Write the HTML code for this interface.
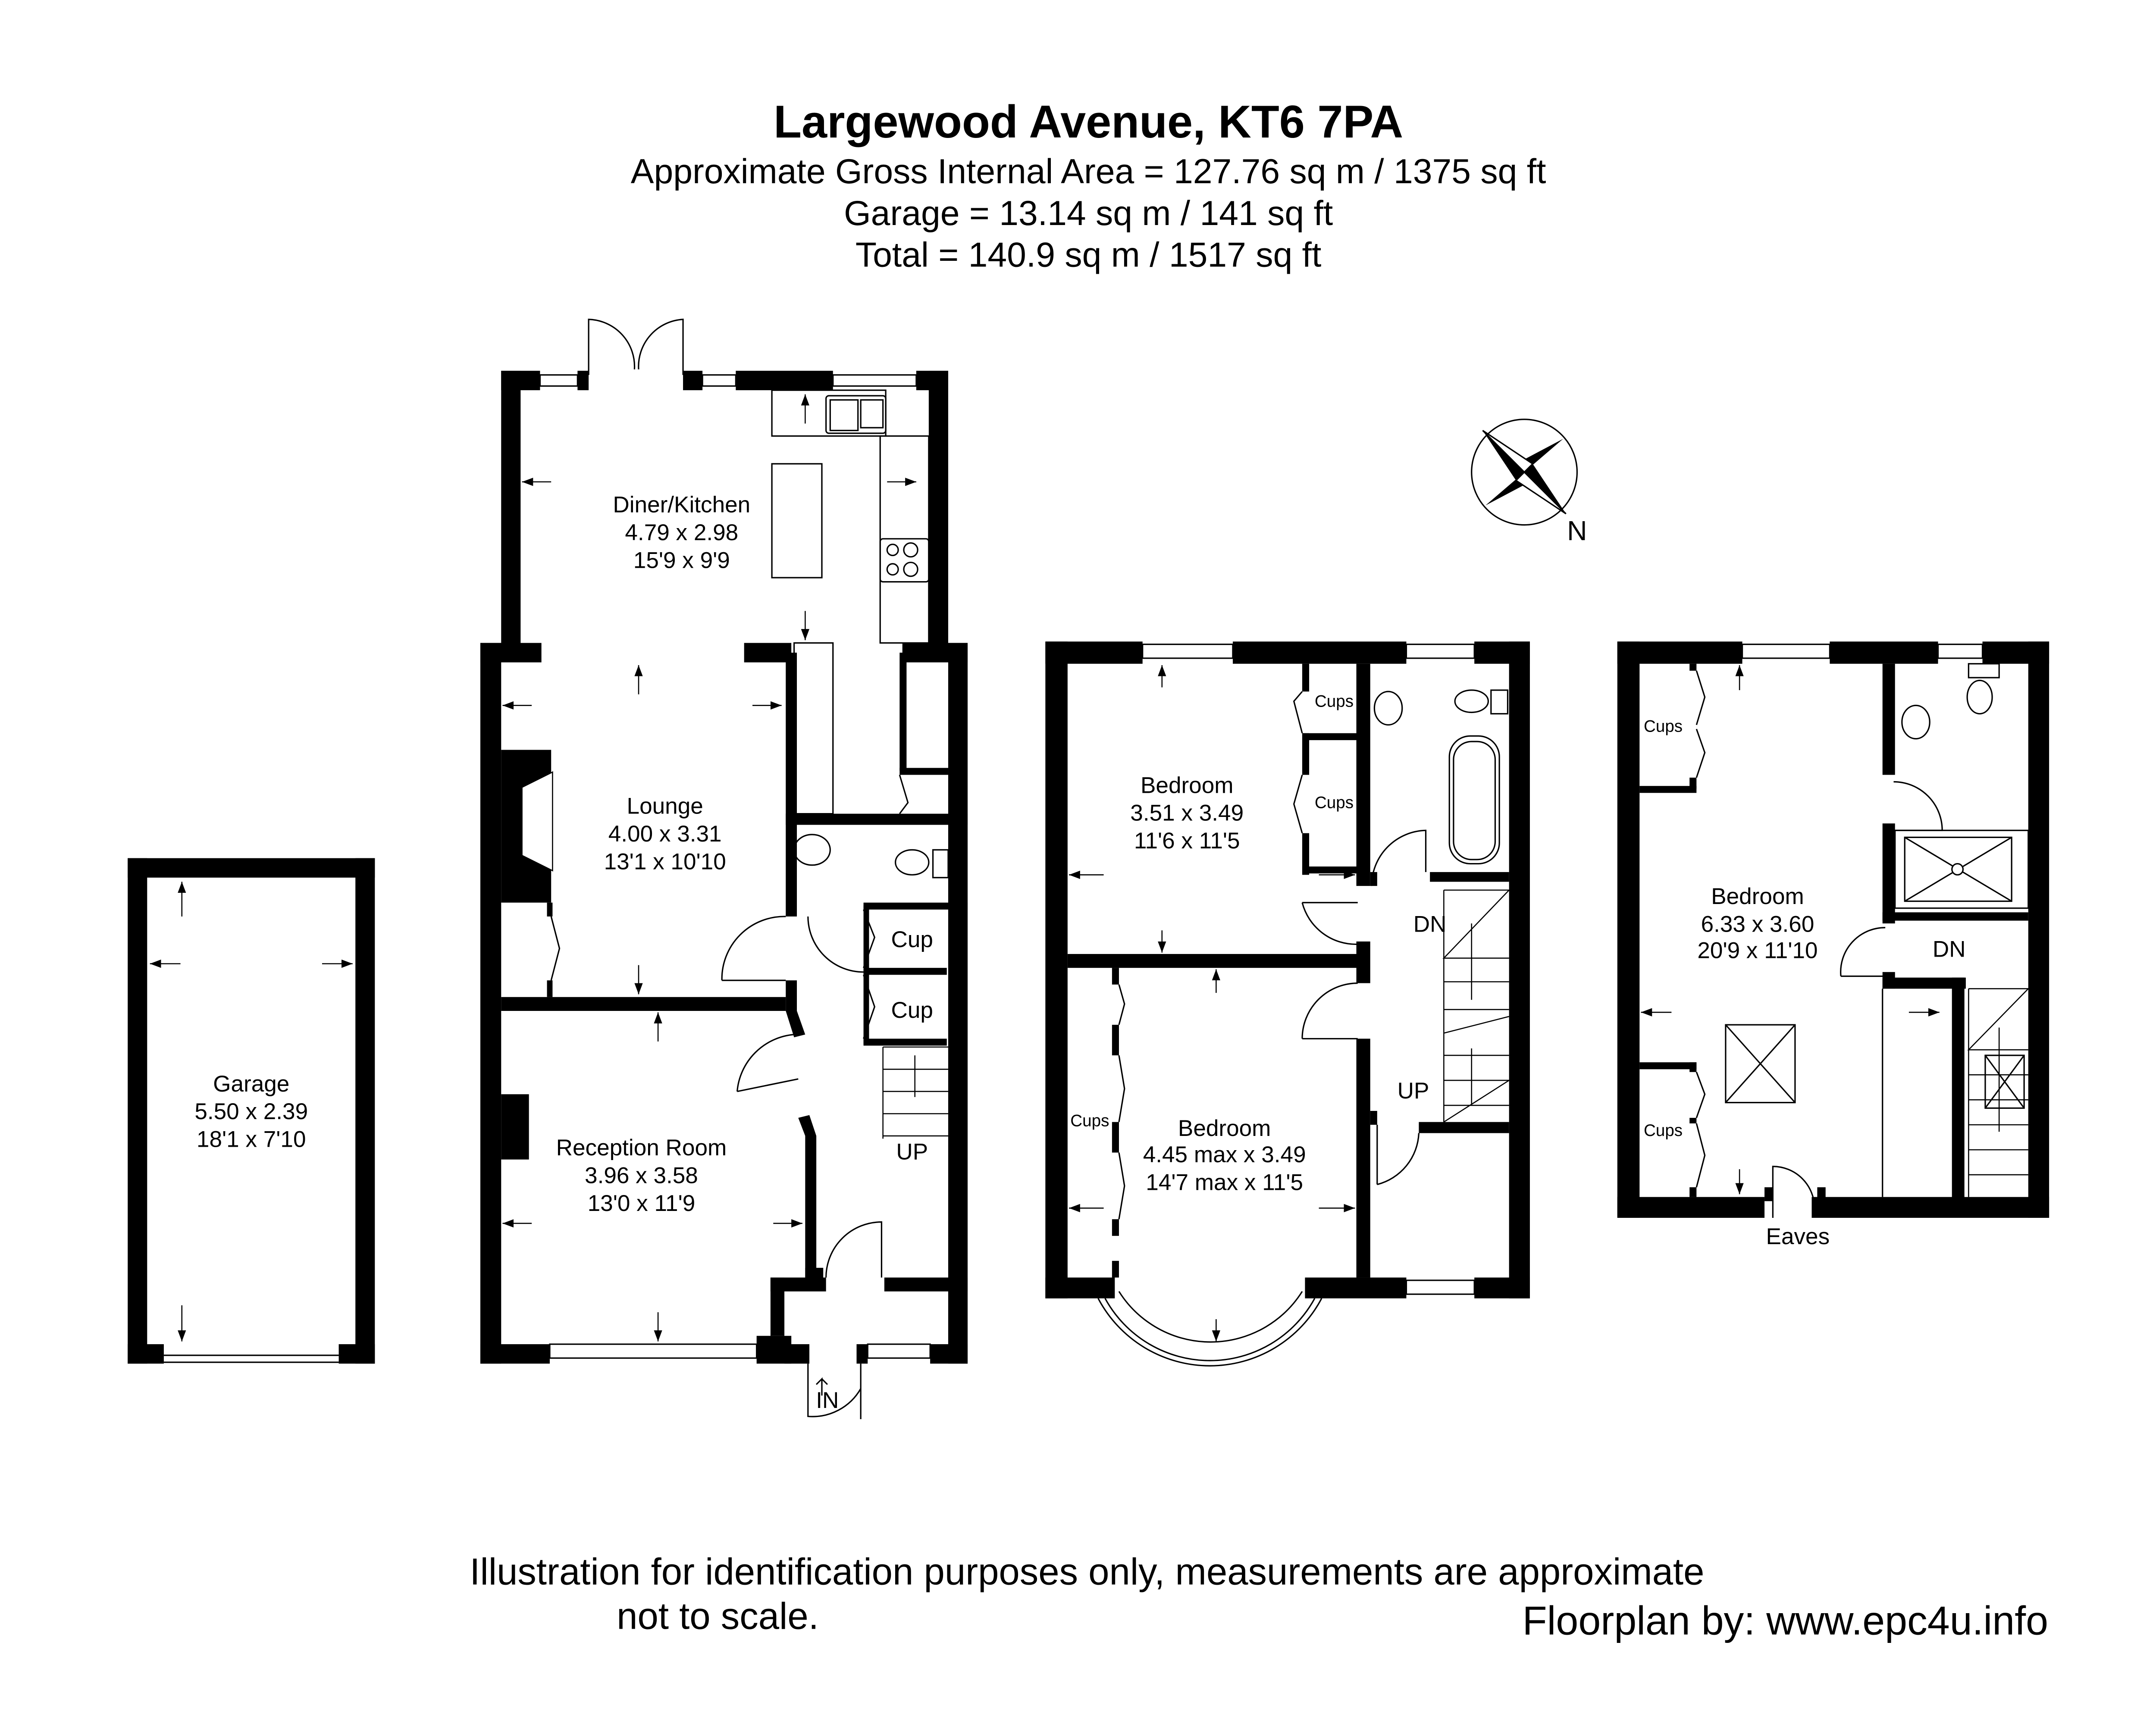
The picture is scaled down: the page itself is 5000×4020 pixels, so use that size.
<!DOCTYPE html>
<html><head><meta charset="utf-8"><style>
html,body{margin:0;padding:0;background:#fff}
svg{display:block}
text{font-family:"Liberation Sans",sans-serif;fill:#000}
</style></head><body>
<svg width="5000" height="4020" viewBox="0 0 1553 1248" preserveAspectRatio="none" xmlns="http://www.w3.org/2000/svg">
<defs>
<marker id="ah" markerWidth="8" markerHeight="6" refX="8" refY="3" orient="auto" markerUnits="userSpaceOnUse"><path d="M0 0 L8 3 L0 6 Z" fill="#000"/></marker>
</defs>
<rect width="1553" height="1248" fill="#fff"/>
<!-- Titles -->
<text x="784" y="99" font-size="33" font-weight="bold" text-anchor="middle">Largewood Avenue, KT6 7PA</text>
<text x="784" y="132" font-size="25" text-anchor="middle">Approximate Gross Internal Area = 127.76 sq m / 1375 sq ft</text>
<text x="784" y="162" font-size="25" text-anchor="middle">Garage = 13.14 sq m / 141 sq ft</text>
<text x="784" y="192" font-size="25" text-anchor="middle">Total = 140.9 sq m / 1517 sq ft</text>

<g fill="#000">
<!-- Garage -->
<rect x="92" y="618" width="178" height="14"/>
<rect x="92" y="618" width="14" height="364"/>
<rect x="256" y="618" width="14" height="364"/>
<rect x="92" y="968" width="26" height="14"/>
<rect x="244" y="968" width="26" height="14"/>

<!-- Ground floor extension -->
<rect x="361" y="267" width="28" height="14"/>
<rect x="416" y="267" width="8" height="14"/>
<rect x="492" y="267" width="14" height="14"/>
<rect x="530" y="267" width="70" height="14"/>
<rect x="660" y="267" width="23" height="14"/>
<rect x="361" y="267" width="14" height="210"/>
<rect x="669" y="267" width="14" height="210"/>
<!-- main house -->
<rect x="346" y="463" width="44" height="14"/>
<rect x="536" y="463" width="34" height="14"/>
<rect x="650" y="463" width="47" height="14"/>
<rect x="346" y="463" width="15" height="519"/>
<rect x="683" y="463" width="14" height="519"/>
<rect x="346" y="968" width="50" height="14"/>
<rect x="545" y="962" width="25" height="20"/>
<rect x="555" y="920" width="40" height="10"/>
<rect x="637" y="920" width="60" height="10"/>
<rect x="555" y="920" width="10" height="42"/>
<rect x="565" y="968" width="18" height="14"/>
<rect x="617" y="968" width="8" height="14"/>
<rect x="670" y="968" width="27" height="14"/>
<!-- chimney -->
<rect x="361" y="540" width="36" height="110"/>
<rect x="361" y="788" width="20" height="47"/>
<!-- lounge/reception wall -->
<rect x="361" y="718" width="205" height="10"/>
<rect x="394" y="650" width="4" height="10"/>
<rect x="394" y="706" width="4" height="12"/>
<!-- hall walls -->
<rect x="566" y="470" width="8" height="120"/>
<rect x="566" y="586" width="131" height="8"/>
<rect x="566" y="590" width="8" height="70"/>
<rect x="566" y="706" width="8" height="22"/>
<polygon points="566,728 574,728 580,745 572,747"/>
<polygon points="575,805 583,803 588,818 588,920 580,920 580,818"/>
<rect x="580" y="913" width="13" height="8"/>
<rect x="622" y="652" width="4" height="100"/>
<rect x="622" y="650" width="75" height="5"/>
<rect x="622" y="697" width="60" height="5"/>
<rect x="622" y="748" width="60" height="5"/>
<rect x="648" y="470" width="5" height="85"/>
<rect x="648" y="553" width="35" height="5"/>

<!-- First floor -->
<rect x="753" y="462" width="70" height="16"/>
<rect x="888" y="462" width="125" height="16"/>
<rect x="1062" y="462" width="40" height="16"/>
<rect x="753" y="462" width="16" height="473"/>
<rect x="1087" y="462" width="15" height="473"/>
<rect x="753" y="920" width="50" height="15"/>
<rect x="940" y="920" width="73" height="15"/>
<rect x="1062" y="920" width="40" height="15"/>
<rect x="769" y="687" width="217" height="10"/>
<rect x="977" y="478" width="10" height="160"/>
<rect x="987" y="628" width="5" height="10"/>
<rect x="977" y="678" width="10" height="30"/>
<rect x="977" y="748" width="10" height="172"/>
<rect x="1022" y="808" width="65" height="8"/>
<rect x="987" y="800" width="5" height="10"/>
<rect x="1030" y="628" width="57" height="7"/>
<rect x="938" y="478" width="5" height="20"/>
<rect x="938" y="528" width="40" height="5"/>
<rect x="938" y="528" width="5" height="30"/>
<rect x="938" y="600" width="5" height="30"/>
<rect x="938" y="624" width="40" height="5"/>
<rect x="801" y="697" width="5" height="12"/>
<rect x="801" y="738" width="5" height="22"/>
<rect x="801" y="808" width="5" height="22"/>
<rect x="801" y="878" width="5" height="12"/>
<rect x="801" y="908" width="5" height="12"/>

<!-- Loft -->
<rect x="1165" y="462" width="90" height="16"/>
<rect x="1318" y="462" width="78" height="16"/>
<rect x="1428" y="462" width="48" height="16"/>
<rect x="1165" y="462" width="16" height="415"/>
<rect x="1461" y="462" width="15" height="415"/>
<rect x="1165" y="862" width="106" height="15"/>
<rect x="1271" y="855" width="6" height="10"/>
<rect x="1309" y="855" width="6" height="10"/>
<rect x="1305" y="862" width="171" height="15"/>
<rect x="1356" y="478" width="9" height="80"/>
<rect x="1356" y="593" width="9" height="72"/>
<rect x="1356" y="700" width="9" height="12"/>
<rect x="1356" y="657" width="105" height="6"/>
<rect x="1356" y="704" width="60" height="8"/>
<rect x="1406" y="704" width="9" height="160"/>
<rect x="1181" y="566" width="41" height="5"/>
<rect x="1181" y="765" width="41" height="5"/>
<rect x="1217" y="478" width="5" height="5"/>
<rect x="1217" y="560" width="5" height="8"/>
<rect x="1217" y="765" width="5" height="7"/>
<rect x="1217" y="805" width="5" height="4"/>
<rect x="1217" y="855" width="5" height="7"/>
</g>

<!-- fireplace inset -->
<polygon points="398,556 376,567 376,616 398,627" fill="#fff" stroke="#000" stroke-width="0.8"/>

<g fill="none" stroke="#000" stroke-width="1">
<!-- windows -->
<rect x="389" y="270" width="27" height="8"/>
<rect x="506" y="270" width="24" height="8"/>
<rect x="600" y="270" width="60" height="8"/>
<rect x="396" y="968" width="149" height="10"/>
<rect x="625" y="968" width="45" height="10"/>
<rect x="823" y="464" width="65" height="10"/>
<rect x="1013" y="464" width="49" height="10"/>
<rect x="1013" y="922" width="49" height="10"/>
<rect x="1255" y="464" width="63" height="10"/>
<rect x="1396" y="464" width="32" height="10"/>
<line x1="118" y1="976" x2="244" y2="976"/>
<line x1="118" y1="981" x2="244" y2="981"/>
<!-- french doors -->
<path d="M424 270 V230 A34 34 0 0 1 457 266 M492 270 V230 A34 34 0 0 0 460 266"/>
<!-- kitchen -->
<rect x="556" y="281" width="82" height="33"/>
<rect x="595" y="285" width="43" height="27" rx="2"/>
<rect x="598" y="288" width="20" height="22"/>
<rect x="620" y="288" width="16" height="20"/>
<rect x="634" y="314" width="35" height="149"/>
<rect x="634" y="388" width="35" height="31" rx="2"/>
<rect x="556" y="334" width="36" height="82"/>
<rect x="572" y="463" width="28" height="123"/>
<circle cx="643" cy="396" r="4"/><circle cx="656" cy="396" r="5"/>
<circle cx="643" cy="410" r="4"/><circle cx="656" cy="410" r="5"/>
<!-- bay -->
<path d="M806 930 A78 78 0 0 0 938 930"/>
<path d="M796 935 A86 86 0 0 0 947 935"/>
<path d="M791 935 A91 91 0 0 0 952 935"/>
<!-- doors swings -->
<path d="M520 706 A45 45 0 0 1 566 660 M520 706 H566"/>
<path d="M582 660 A40 40 0 0 0 622 700"/>
<path d="M531 786 A45 45 0 0 1 572 745 M531 786 L575 777"/>
<path d="M595 920 A40 40 0 0 1 635 880 V920"/>
<path d="M582 982 V1020 A40 40 0 0 0 620 1000 M620 982 V1022"/>
<path d="M592 1005 V993 L588 997 M592 993 L596 997"/>
<path d="M988 638 A40 40 0 0 1 1027 598 V628"/>
<path d="M938 650 A40 40 0 0 0 978 680 M938 650 H978"/>
<path d="M938 748 A40 40 0 0 1 978 708 M938 748 H978"/>
<path d="M992 853 A40 40 0 0 0 1022 816 M992 853 V810"/>
<path d="M1364 563 A35 35 0 0 1 1399 598 H1364"/>
<path d="M1326 703 A32 32 0 0 1 1358 668 M1326 703 H1358"/>
<path d="M1277 877 V840 A30 30 0 0 1 1307 870"/>
<!-- bifold doors -->
<path d="M397 660 L403 683 L397 706"/>
<path d="M938 498 L932 505 L938 528 M938 558 L932 579 L938 600"/>
<path d="M806 709 L810 723 L806 738 M806 760 L810 784 L806 808 M806 830 L810 854 L806 878"/>
<path d="M1222 483 L1228 502 L1222 522 M1222 525 L1228 542 L1222 560"/>
<path d="M1222 772 L1228 788 L1222 805 M1222 809 L1228 832 L1222 855"/>
<path d="M622 655 L630 675 L622 697 M622 702 L630 725 L622 748"/>
<path d="M648 558 L654 578 L648 586"/>
<!-- stairs ground -->
<g stroke-width="0.8">
<path d="M636 754 H683 M636 754 V820 M636 770 H683 M636 786 H683 M636 802 H683 M636 818 H683 M659 790 V760"/>
<!-- first stairs -->
<path d="M1040 641 V808 M1040 641 H1087 L1040 690 H1087 M1040 707 H1087 M1040 727 H1087 M1040 744 L1087 732 M1040 760 H1087 M1040 778 H1087 L1040 808 M1040 796 H1087 M1060 665 V720 M1060 755 V795"/>
<!-- loft stairs -->
<path d="M1418 712 V862 M1418 712 H1461 L1418 756 H1461 M1418 774 H1461 M1418 792 H1461 M1418 810 H1461 M1418 828 H1461 M1418 846 H1461 M1440 740 V815"/>
</g>
<!-- bathroom -->
<rect x="1044" y="530" width="36" height="92" rx="15"/>
<rect x="1047" y="534" width="30" height="85" rx="13"/>
<ellipse cx="1000" cy="510" rx="10" ry="12"/>
<ellipse cx="1060" cy="505" rx="12" ry="8"/>
<rect x="1074" y="497" width="12" height="17"/>
<ellipse cx="1426" cy="502" rx="9" ry="12"/>
<rect x="1418" y="478" width="22" height="10"/>
<ellipse cx="1380" cy="520" rx="10" ry="12"/>
<rect x="1365" y="598" width="96" height="56"/>
<rect x="1372" y="603" width="77" height="46"/>
<path d="M1372 603 L1449 649 M1449 603 L1372 649"/>
<circle cx="1410" cy="626" r="4" fill="#fff"/>
<ellipse cx="585" cy="612" rx="13" ry="11"/>
<ellipse cx="657" cy="621" rx="12" ry="9"/>
<rect x="672" y="612" width="11" height="20"/>
<!-- loft misc -->
<path d="M1356 712 V862"/>
<rect x="1243" y="738" width="50" height="56"/>
<path d="M1243 738 L1293 794 M1293 738 L1243 794"/>
<rect x="1430" y="760" width="28" height="38"/>
<path d="M1430 760 L1458 798 M1458 760 L1430 798"/>
</g>

<!-- dimension arrows -->
<g stroke="#000" stroke-width="0.8" marker-end="url(#ah)">
<line x1="397" y1="347" x2="376" y2="347"/><line x1="639" y1="347" x2="660" y2="347"/>
<line x1="580" y1="305" x2="580" y2="284"/><line x1="580" y1="440" x2="580" y2="461"/>
<line x1="383" y1="508" x2="362" y2="508"/><line x1="542" y1="508" x2="563" y2="508"/>
<line x1="460" y1="500" x2="460" y2="479"/><line x1="460" y1="695" x2="460" y2="716"/>
<line x1="474" y1="750" x2="474" y2="729"/><line x1="474" y1="945" x2="474" y2="966"/>
<line x1="383" y1="881" x2="362" y2="881"/><line x1="557" y1="881" x2="578" y2="881"/>
<line x1="131" y1="660" x2="131" y2="635"/><line x1="131" y1="940" x2="131" y2="966"/>
<line x1="130" y1="694" x2="108" y2="694"/><line x1="232" y1="694" x2="254" y2="694"/>
<line x1="837" y1="495" x2="837" y2="479"/><line x1="837" y1="670" x2="837" y2="686"/>
<line x1="795" y1="630" x2="770" y2="630"/><line x1="950" y1="630" x2="976" y2="630"/>
<line x1="876" y1="715" x2="876" y2="698"/><line x1="876" y1="950" x2="876" y2="966"/>
<line x1="795" y1="870" x2="770" y2="870"/><line x1="950" y1="870" x2="976" y2="870"/>
<line x1="1253" y1="497" x2="1253" y2="479"/><line x1="1253" y1="842" x2="1253" y2="860"/>
<line x1="1204" y1="729" x2="1182" y2="729"/><line x1="1375" y1="729" x2="1397" y2="729"/>
</g>

<!-- compass -->
<g transform="translate(1098,340)">
<circle r="38" fill="none" stroke="#000" stroke-width="1"/>
<polygon points="0,0 -30,-30 -6,6" fill="#000"/>
<polygon points="0,0 30,30 6,-6" fill="#000"/>
<polygon points="0,0 -28,24 6,6" fill="#000"/>
<polygon points="0,0 28,-24 -6,-6" fill="#000"/>
<polygon points="0,0 -30,-30 6,-6" fill="#fff" stroke="#000" stroke-width="1"/>
<polygon points="0,0 30,30 -6,6" fill="#fff" stroke="#000" stroke-width="1"/>
</g>
<text x="1136" y="389" font-size="20" text-anchor="middle">N</text>

<!-- labels -->
<g font-size="16.5" text-anchor="middle">
<text x="181" y="786">Garage</text><text x="181" y="806">5.50 x 2.39</text><text x="181" y="826">18'1 x 7'10</text>
<text x="491" y="369">Diner/Kitchen</text><text x="491" y="389">4.79 x 2.98</text><text x="491" y="409">15'9 x 9'9</text>
<text x="479" y="586">Lounge</text><text x="479" y="606">4.00 x 3.31</text><text x="479" y="626">13'1 x 10'10</text>
<text x="462" y="832">Reception Room</text><text x="462" y="852">3.96 x 3.58</text><text x="462" y="872">13'0 x 11'9</text>
<text x="657" y="682">Cup</text><text x="657" y="733">Cup</text><text x="657" y="835">UP</text><text x="596" y="1014">IN</text>
<text x="855" y="571">Bedroom</text><text x="855" y="591">3.51 x 3.49</text><text x="855" y="611">11'6 x 11'5</text>
<text x="882" y="818">Bedroom</text><text x="882" y="837">4.45 max x 3.49</text><text x="882" y="857">14'7 max x 11'5</text>
<text x="1030" y="671">DN</text><text x="1018" y="791">UP</text>
<text x="1266" y="651">Bedroom</text><text x="1266" y="671">6.33 x 3.60</text><text x="1266" y="690">20'9 x 11'10</text>
<text x="1404" y="689">DN</text><text x="1295" y="896">Eaves</text>
</g>
<g font-size="12" text-anchor="middle">
<text x="961" y="509">Cups</text><text x="961" y="582">Cups</text><text x="785" y="811">Cups</text>
<text x="1198" y="527">Cups</text><text x="1198" y="818">Cups</text>
</g>

<text x="783" y="1141" font-size="27" text-anchor="middle">Illustration for identification purposes only, measurements are approximate</text>
<text x="517" y="1173" font-size="27" text-anchor="middle">not to scale.</text>
<text x="1286" y="1177" font-size="29" text-anchor="middle">Floorplan by: www.epc4u.info</text>
</svg>
</body></html>
